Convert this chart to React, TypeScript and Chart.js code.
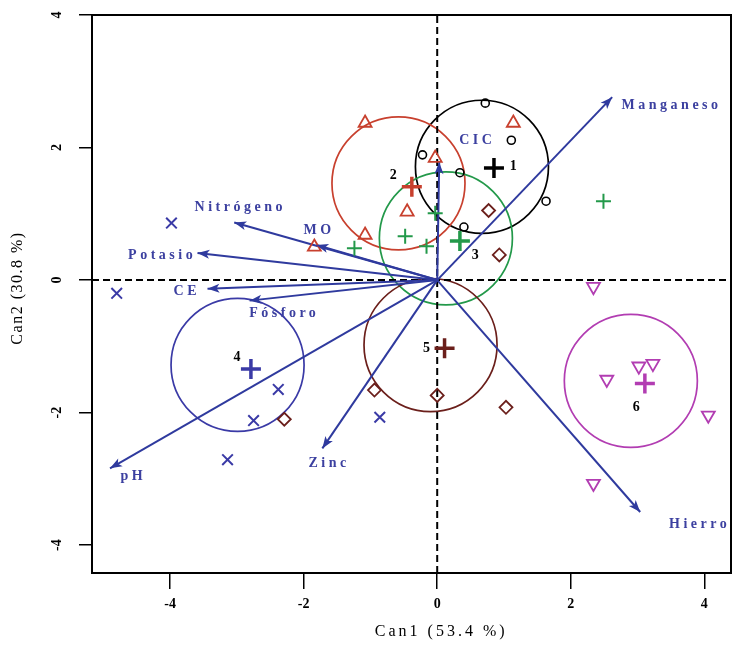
import React, { useEffect, useRef } from 'react';
import { Chart, registerables } from 'chart.js';

Chart.register(...registerables);

// Axes
const xTicks = [-4, -2, 0, 2, 4];
const yTicks = [-4, -2, 0, 2, 4];
const xLimits = [-5.17, 4.4];
const yLimits = [-4.42, 4.0];
const xTitle = 'Can1 (53.4 %)';
const yTitle = 'Can2 (30.8 %)';

// Groups
const groupNames = ['1', '2', '3', '4', '5', '6'];
const groupColors = ['#000000', '#C8402E', '#23994A', '#3A3AA6', '#6B1F1B', '#B23DB2'];

const g1X = [0.72, 1.11, -0.22, 0.34, 0.40, 1.63];
const g1Y = [2.67, 2.11, 1.89, 1.62, 0.80, 1.19];
const g2X = [-1.08, 1.14, -0.03, -0.45, -1.08, -1.84];
const g2Y = [2.37, 2.37, 1.84, 1.03, 0.68, 0.50];
const g3X = [-0.03, -0.48, -0.16, -1.24, 2.49];
const g3Y = [1.01, 0.66, 0.51, 0.48, 1.19];
const g4X = [-3.98, -4.80, -2.38, -2.75, -3.14, -0.86];
const g4Y = [0.86, -0.20, -1.65, -2.12, -2.71, -2.07];
const g5X = [0.77, 0.93, -2.29, -0.94, 0.00, 1.03];
const g5Y = [1.05, 0.38, -2.10, -1.66, -1.74, -1.92];
const g6X = [2.34, 3.02, 3.23, 2.54, 4.06, 2.34];
const g6Y = [-0.10, -1.30, -1.26, -1.50, -2.04, -3.07];

const meanX = [0.85, -0.38, 0.34, -2.79, 0.11, 3.11];
const meanY = [1.69, 1.41, 0.59, -1.34, -1.03, -1.56];
const circleX = [0.67, -0.58, 0.13, -2.99, -0.10, 2.90];
const circleY = [1.71, 1.46, 0.63, -1.28, -0.98, -1.52];
const circleR = [1.0, 1.0, 1.0, 1.0, 1.0, 1.0];
const groupLabelX = [1.14, -0.66, 0.57, -3.0, -0.16, 2.98];
const groupLabelY = [1.71, 1.58, 0.38, -1.16, -1.03, -1.92];

// Variable vectors
const varNames = ['Manganeso', 'CIC', 'Nitrógeno', 'MO', 'Potasio', 'CE', 'Fósforo', 'pH', 'Zinc', 'Hierro'];
const varX = [2.62, 0.03, -3.04, -1.81, -3.59, -3.44, -2.81, -4.90, -1.72, 3.04];
const varY = [2.76, 1.78, 0.87, 0.53, 0.41, -0.13, -0.31, -2.84, -2.54, -3.50];
const varLabelX = [3.48, 0.57, -2.98, -1.80, -4.15, -3.78, -2.32, -4.58, -1.65, 3.90];
const varLabelY = [2.63, 2.11, 1.10, 0.75, 0.38, -0.17, -0.50, -2.96, -2.76, -3.68];

const SERIF = '"Liberation Serif", "DejaVu Serif", serif';
const ARROW_COLOR = '#2F3A9E';
const LABEL_COLOR = '#3C40A0';

const zip = (xs: number[], ys: number[]) => xs.map((x, i) => ({ x, y: ys[i] }));

export default function App() {
  const ref = useRef<HTMLCanvasElement | null>(null);

  useEffect(() => {
    const canvas = ref.current;
    if (!canvas) return;

    const groupPts = [zip(g1X, g1Y), zip(g2X, g2Y), zip(g3X, g3Y), zip(g4X, g4Y), zip(g5X, g5Y), zip(g6X, g6Y)];
    const styles: any[] = [
      { pointStyle: 'circle', pointRadius: 4, pointBorderWidth: 1.6, pointRotation: 0 },
      { pointStyle: 'triangle', pointRadius: 7.5, pointBorderWidth: 1.8, pointRotation: 0 },
      { pointStyle: 'cross', pointRadius: 7.5, pointBorderWidth: 2, pointRotation: 0 },
      { pointStyle: 'crossRot', pointRadius: 7.5, pointBorderWidth: 2, pointRotation: 0 },
      { pointStyle: 'rectRot', pointRadius: 6.5, pointBorderWidth: 1.8, pointRotation: 0 },
      { pointStyle: 'triangle', pointRadius: 7.5, pointBorderWidth: 1.8, pointRotation: 180 },
    ];

    const datasets: any[] = [];
    datasets.push({
      type: 'line', data: [{ x: xLimits[0], y: 0 }, { x: xLimits[1], y: 0 }],
      borderColor: '#000', borderWidth: 2, borderDash: [7, 4], pointRadius: 0, order: 20,
    });
    datasets.push({
      type: 'line', data: [{ x: 0, y: yLimits[0] }, { x: 0, y: yLimits[1] }],
      borderColor: '#000', borderWidth: 2, borderDash: [7, 4], pointRadius: 0, order: 20,
    });
    varNames.forEach((n, i) => {
      datasets.push({
        type: 'line', label: n, data: [{ x: 0, y: 0 }, { x: varX[i], y: varY[i] }],
        borderColor: ARROW_COLOR, borderWidth: 2, pointRadius: 0, order: 10,
      });
    });
    groupPts.forEach((pts, i) => {
      datasets.push({
        type: 'scatter', label: 'G' + groupNames[i], data: pts,
        borderColor: groupColors[i], backgroundColor: 'rgba(0,0,0,0)', showLine: false,
        ...styles[i], order: 2,
      });
    });
    datasets.push({
      type: 'scatter', label: 'means', data: zip(meanX, meanY),
      borderColor: groupColors, backgroundColor: groupColors, pointStyle: 'cross',
      pointRadius: 10, pointBorderWidth: 3.5, order: 1,
    });

    const drawer = {
      id: 'drawer',
      beforeDatasetsDraw(chart: any) {
        const { ctx, scales: { x, y } } = chart;
        ctx.save();
        const pxPerUnit = (x.getPixelForValue(1) - x.getPixelForValue(0) + y.getPixelForValue(0) - y.getPixelForValue(1)) / 2;
        circleX.forEach((cx, i) => {
          ctx.beginPath();
          ctx.arc(x.getPixelForValue(cx), y.getPixelForValue(circleY[i]), circleR[i] * pxPerUnit, 0, Math.PI * 2);
          ctx.strokeStyle = groupColors[i];
          ctx.lineWidth = 1.7;
          ctx.stroke();
        });
        ctx.restore();
      },
      afterDatasetsDraw(chart: any) {
        const { ctx, scales: { x, y } } = chart;
        ctx.save();
        // arrowheads
        varX.forEach((vx, i) => {
          const x1 = x.getPixelForValue(vx), y1 = y.getPixelForValue(varY[i]);
          const x0 = x.getPixelForValue(0), y0 = y.getPixelForValue(0);
          const a = Math.atan2(y1 - y0, x1 - x0);
          const L = 12, W = 4.5;
          ctx.beginPath();
          ctx.moveTo(x1, y1);
          ctx.lineTo(x1 - L * Math.cos(a) + W * Math.sin(a), y1 - L * Math.sin(a) - W * Math.cos(a));
          ctx.lineTo(x1 - L * 0.75 * Math.cos(a), y1 - L * 0.75 * Math.sin(a));
          ctx.lineTo(x1 - L * Math.cos(a) - W * Math.sin(a), y1 - L * Math.sin(a) + W * Math.cos(a));
          ctx.closePath();
          ctx.fillStyle = ARROW_COLOR;
          ctx.fill();
        });
        // variable labels
        ctx.font = `bold 14px ${SERIF}`;
        ctx.fillStyle = LABEL_COLOR;
        ctx.textAlign = 'center';
        ctx.textBaseline = 'middle';
        (ctx as any).letterSpacing = '3.5px';
        varNames.forEach((n, i) => {
          ctx.fillText(n, x.getPixelForValue(varLabelX[i]) + 2, y.getPixelForValue(varLabelY[i]));
        });
        (ctx as any).letterSpacing = '0px';
        // group labels
        ctx.fillStyle = '#000';
        ctx.font = `bold 14px ${SERIF}`;
        groupNames.forEach((n, i) => {
          ctx.fillText(n, x.getPixelForValue(groupLabelX[i]), y.getPixelForValue(groupLabelY[i]));
        });
        ctx.restore();
      },
      afterDraw(chart: any) {
        const { ctx, chartArea: ca, scales: { x, y } } = chart;
        ctx.save();
        ctx.strokeStyle = '#000';
        ctx.lineWidth = 2;
        ctx.strokeRect(ca.left, ca.top, ca.right - ca.left, ca.bottom - ca.top);
        // y tick labels (rotated)
        ctx.fillStyle = '#000';
        ctx.font = `bold 14px ${SERIF}`;
        ctx.textAlign = 'center';
        ctx.textBaseline = 'middle';
        yTicks.forEach((v) => {
          ctx.save();
          ctx.translate(ca.left - 35, y.getPixelForValue(v));
          ctx.rotate(-Math.PI / 2);
          ctx.fillText(String(v), 0, 0);
          ctx.restore();
        });
        // titles
        ctx.font = `16px ${SERIF}`;
        (ctx as any).letterSpacing = '3px';
        ctx.fillText(xTitle, x.getPixelForValue(0) + 4, ca.bottom + 59);
        (ctx as any).letterSpacing = '1.5px';
        ctx.save();
        ctx.translate(18, (ca.top + ca.bottom) / 2 - 6);
        ctx.rotate(-Math.PI / 2);
        ctx.fillText(yTitle, 0, 0);
        ctx.restore();
        ctx.restore();
      },
    };

    const chart = new Chart(canvas, {
      type: 'scatter',
      data: { datasets },
      plugins: [drawer],
      options: {
        animation: false,
        responsive: false,
        maintainAspectRatio: false,
        layout: { autoPadding: false, padding: { top: 15, right: 8, left: 0, bottom: 0 } },
        plugins: { legend: { display: false }, tooltip: { enabled: false } },
        scales: {
          x: {
            type: 'linear', min: xLimits[0], max: xLimits[1],
            afterBuildTicks: (s: any) => { s.ticks = xTicks.map((v) => ({ value: v })); },
            afterFit: (s: any) => { s.height = 77; s.paddingLeft = 0; s.paddingRight = 0; },
            grid: { drawOnChartArea: false, drawTicks: true, tickLength: 16, color: '#000', lineWidth: 1.5 },
            border: { display: false },
            ticks: {
              color: '#000', font: { family: SERIF, size: 14, weight: 'bold' }, padding: 7,
              maxRotation: 0, autoSkip: false, callback: (v: any) => String(v),
            },
          },
          y: {
            type: 'linear', min: yLimits[0], max: yLimits[1],
            afterBuildTicks: (s: any) => { s.ticks = yTicks.map((v) => ({ value: v })); },
            afterFit: (s: any) => { s.width = 92; s.paddingTop = 0; s.paddingBottom = 0; },
            grid: { drawOnChartArea: false, drawTicks: true, tickLength: 13, color: '#000', lineWidth: 1.5 },
            border: { display: false },
            ticks: { display: true, callback: () => '', autoSkip: false },
          },
        },
      } as any,
    });
    return () => chart.destroy();
  }, []);

  return (
    <div style={{ position: 'fixed', left: 0, top: 0, width: 739, height: 650, background: '#fff' }}>
      <canvas ref={ref} width={739} height={650} style={{ width: 739, height: 650, display: 'block' }} />
    </div>
  );
}
